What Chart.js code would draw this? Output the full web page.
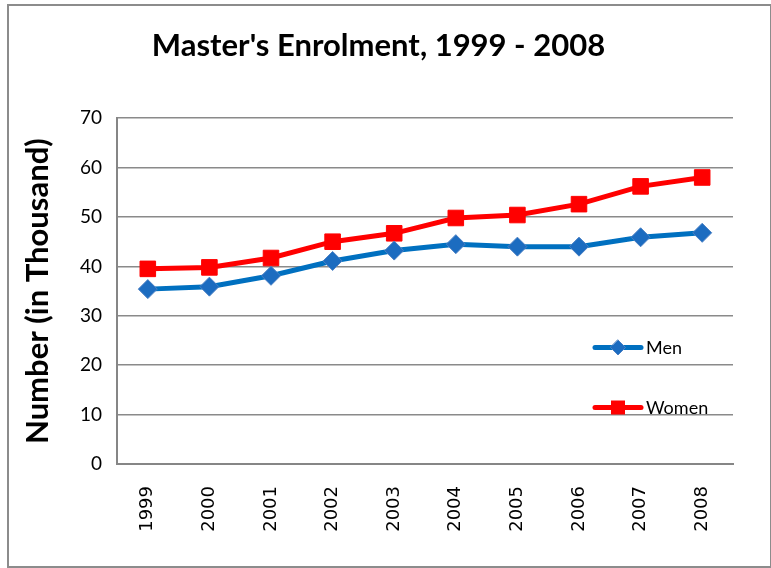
<!DOCTYPE html>
<html>
<head>
<meta charset="utf-8">
<script src="https://cdn.jsdelivr.net/npm/chart.js@4/dist/chart.umd.min.js"></script>
<style>
  html, body { margin: 0; padding: 0; background: #fff; }
  #wrap { width: 771px; height: 568px; position: relative; }
</style>
</head>
<body>
<div id="wrap"><canvas id="c" width="771" height="568"></canvas></div>
<script>
const years = ['1999','2000','2001','2002','2003','2004','2005','2006','2007','2008'];
const menValues = [35.4, 35.9, 38.1, 41.1, 43.2, 44.5, 44.0, 44.0, 45.9, 46.8];
const womenValues = [39.5, 39.8, 41.7, 45.0, 46.7, 49.8, 50.4, 52.6, 56.2, 58.0];
const yTicks = [0, 10, 20, 30, 40, 50, 60, 70];
const chartTitle = "Master's Enrolment, 1999 - 2008";
const yTitle = 'Number (in Thousand)';
const seriesNames = ['Men', 'Women'];

const frame = {
  id: 'frame',
  beforeDraw(chart) {
    const ctx = chart.ctx;
    ctx.save();
    ctx.fillStyle = '#fff';
    ctx.fillRect(0, 0, chart.width, chart.height);
    ctx.strokeStyle = '#8c8c8c';
    ctx.lineWidth = 2;
    ctx.strokeRect(8, 5, 763, 562);
    ctx.restore();
  }
};

const insideLegend = {
  id: 'insideLegend',
  afterDatasetsDraw(chart) {
    const ctx = chart.ctx;
    const rows = [347.5, 407.5];
    chart.data.datasets.forEach((ds, i) => {
      const y = rows[i];
      ctx.save();
      ctx.strokeStyle = ds.borderColor;
      ctx.lineWidth = ds.borderWidth;
      ctx.lineCap = 'round';
      ctx.beginPath();
      ctx.moveTo(595, y);
      ctx.lineTo(641, y);
      ctx.stroke();
      ctx.fillStyle = ds.pointBackgroundColor;
      ctx.strokeStyle = ds.pointBorderColor;
      ctx.lineWidth = 1;
      const cx = 618;
      if (ds.pointStyle === 'rectRot') {
        const r = 7.5;
        ctx.beginPath();
        ctx.moveTo(cx, y - r); ctx.lineTo(cx + r, y); ctx.lineTo(cx, y + r); ctx.lineTo(cx - r, y);
        ctx.closePath(); ctx.fill(); ctx.stroke();
      } else {
        const h = 7;
        ctx.fillRect(cx - h, y - h, 2 * h, 2 * h);
      }
      ctx.fillStyle = '#000';
      ctx.font = '18px Lato';
      ctx.textBaseline = 'middle';
      ctx.textAlign = 'left';
      ctx.fillText(ds.label, 646, y + 1);
      ctx.restore();
    });
  }
};

new Chart(document.getElementById('c'), {
  type: 'line',
  data: {
    labels: years,
    datasets: [
      {
        label: seriesNames[0],
        data: menValues,
        borderColor: '#0070C0',
        borderWidth: 5,
        pointStyle: 'rectRot',
        pointRadius: 9.5,
        pointBackgroundColor: '#1C6CC0',
        pointBorderColor: '#4A80C4',
        pointBorderWidth: 1,
        tension: 0
      },
      {
        label: seriesNames[1],
        data: womenValues,
        borderColor: '#FF0000',
        borderWidth: 5,
        pointStyle: 'rect',
        pointRadius: 11,
        pointBackgroundColor: '#FF0000',
        pointBorderColor: '#FF0000',
        pointBorderWidth: 1,
        tension: 0
      }
    ]
  },
  options: {
    responsive: false,
    animation: false,
    layout: { padding: { left: 0, right: 14, top: 0, bottom: 0 } },
    plugins: {
      legend: { display: false },
      tooltip: { enabled: false },
      title: {
        display: true,
        text: chartTitle,
        color: '#000',
        font: { family: 'Lato', size: 31, weight: 'bold' },
        padding: { top: 27, bottom: 54 }
      }
    },
    scales: {
      x: {
        offset: true,
        grid: { display: true, color: 'rgba(0,0,0,0)', drawTicks: false },
        border: { display: true, color: '#868686', width: 2 },
        ticks: {
          autoSkip: false,
          minRotation: 90,
          maxRotation: 90,
          padding: 22,
          color: '#000',
          font: { family: 'DejaVu Sans', size: 18 }
        },
        afterFit(s) { s.height = 104; }
      },
      y: {
        min: 0,
        max: 70,
        afterBuildTicks(s) { s.ticks = yTicks.map(v => ({ value: v })); },
        grid: { color: '#8a8a8a', lineWidth: 1.5, drawTicks: false },
        border: { display: true, color: '#868686', width: 2 },
        ticks: {
          padding: 15,
          color: '#000',
          font: { family: 'Lato', size: 19 }
        },
        title: {
          display: true,
          text: yTitle,
          color: '#000',
          font: { family: 'Lato', size: 31, weight: 'bold' },
          padding: { top: 19, bottom: 0 }
        },
        afterFit(s) { s.width = 117; }
      },
      ySpacer: {
        position: 'right',
        min: 0,
        max: 70,
        grid: { display: false, drawTicks: false },
        border: { display: false },
        ticks: { display: false },
        afterFit(s) { s.width = 24; }
      }
    }
  },
  plugins: [frame, insideLegend]
});
</script>
</body>
</html>
